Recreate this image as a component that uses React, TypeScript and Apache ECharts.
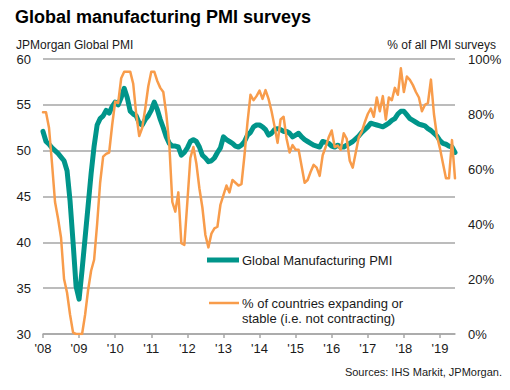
import React, { useEffect, useRef } from "react";
import * as echarts from "echarts";

// Monthly categories Jan 2008 .. Jun 2019
const startYear = 2008;
const monthCount = 138;
const months: string[] = [];
for (let i = 0; i < monthCount; i++) {
  const y = startYear + Math.floor(i / 12);
  const m = (i % 12) + 1;
  months.push(`${y}-${m < 10 ? "0" + m : m}`);
}

const yearLabels = ["'08", "'09", "'10", "'11", "'12", "'13", "'14", "'15", "'16", "'17", "'18", "'19"];

// JPMorgan Global Manufacturing PMI (left axis)
const pmi = [
  52.1, 51.0, 50.7, 50.3, 50.0, 49.7, 49.3, 48.9, 47.8, 44.5, 40.0, 35.2,
  33.8, 37.0, 40.5, 44.0, 47.5, 50.5, 52.8, 53.5, 53.8, 54.4, 54.1, 54.8,
  55.3, 55.0, 55.8, 56.8, 55.8, 54.3, 54.0, 53.8, 53.0, 52.8, 53.4, 53.8,
  54.4, 55.3, 54.5, 53.4, 52.5, 51.5, 50.8, 50.5, 50.5, 50.4, 49.5, 49.8,
  50.3, 51.0, 51.2, 51.0, 50.4, 49.5, 49.2, 48.8, 48.9, 49.2, 49.8, 50.3,
  51.5, 51.2, 51.0, 50.8, 50.5, 50.4, 50.6, 51.0, 51.7, 52.0, 52.6, 52.8,
  52.8, 52.6, 52.3, 51.7, 51.9, 52.3, 52.4, 52.3, 52.1, 52.1, 51.9, 51.5,
  51.7, 51.9, 51.5, 51.2, 51.0, 50.8, 50.6, 50.5, 50.4, 51.0, 50.9, 50.8,
  50.5, 50.4, 50.6, 50.4, 50.4, 50.6, 50.8, 51.0, 51.3, 51.6, 52.0, 52.3,
  52.6, 53.0, 52.9, 52.8, 52.7, 52.6, 52.8, 53.0, 53.3, 53.5, 54.0, 54.3,
  54.3, 53.9, 53.5, 53.3, 53.1, 52.9, 52.8, 52.7, 52.4, 52.2, 51.9, 51.6,
  51.1, 50.8, 50.7, 50.5, 50.4, 49.8,
];

// % of countries expanding or stable (right axis)
const pctExpanding = [
  80.6, 80.6, 75, 62, 48, 42, 35, 20, 15, 7, 0.5, 0,
  0, 0, 7, 16, 23, 27, 40, 55, 64.5, 65.5, 66, 76,
  84.5, 84, 93, 95.4, 95.4, 95.4, 91, 80, 72, 75, 82, 90,
  95.4, 95.4, 92, 89.5, 88, 80, 69, 48, 44.5, 51.5, 33, 32.4,
  48, 64, 68, 62, 53, 46, 36, 31.5, 36.5, 38.4, 39, 47,
  50.5, 54, 51.5, 56, 55, 54, 54.5, 65, 77, 87, 85, 86.5,
  88.5, 85.5, 88.7, 85.5, 81, 75.5, 69.5, 78, 79, 71, 66, 68.7,
  67, 67, 61, 55, 56, 59, 61.5, 60.5, 57.5, 65, 68, 71.5,
  74, 68, 68.5, 67, 73, 71, 63, 60.5, 66, 71.5, 73.6, 77,
  80, 82, 79, 86, 81, 86.5, 78, 86, 85, 89.5, 87, 96.6,
  88, 93.6, 92.4, 90.5, 88, 86, 81, 83.3, 84, 92.5, 80, 72,
  67.5, 62, 56.6, 56.6, 70.5, 56.6,
];

const TEAL = "#00958A";
const ORANGE = "#F89C4B";
const GRID = "#A6A6A6";
const FONT = '"Liberation Sans", Arial, sans-serif';

export default function App() {
  const ref = useRef<HTMLDivElement>(null);

  useEffect(() => {
    const chart = echarts.init(ref.current!, null, { renderer: "svg" });
    chart.setOption({
      animation: false,
      backgroundColor: "#ffffff",
      textStyle: { fontFamily: FONT },
      grid: {
        left: 43,
        right: 55,
        top: 59,
        bottom: 56,
        containLabel: false,
        outerBoundsMode: "none",
      },
      xAxis: {
        type: "category",
        data: months,
        boundaryGap: false,
        axisLine: { show: true, lineStyle: { color: GRID, width: 1.5 } },
        axisTick: {
          show: true,
          interval: (i: number) => i % 12 === 0,
          length: 4,
          lineStyle: { color: GRID, width: 1.5 },
        },
        axisLabel: {
          interval: (i: number) => i % 12 === 0,
          formatter: (_v: string, i: number) => yearLabels[Math.floor(i / 12)] ?? "",
          color: "#1a1a1a",
          fontSize: 13,
          fontFamily: FONT,
          margin: 8,
        },
        splitLine: { show: false },
      },
      yAxis: [
        {
          type: "value",
          min: 30,
          max: 60,
          interval: 5,
          axisLine: { show: false },
          axisTick: { show: false },
          axisLabel: { color: "#1a1a1a", fontSize: 13, fontFamily: FONT, margin: 12 },
          splitLine: { show: true, lineStyle: { color: GRID, width: 1.5 } },
        },
        {
          type: "value",
          min: 0,
          max: 100,
          interval: 20,
          position: "right",
          axisLine: { show: false },
          axisTick: { show: false },
          axisLabel: {
            formatter: "{value}%",
            color: "#1a1a1a",
            fontSize: 13,
            fontFamily: FONT,
            margin: 13,
          },
          splitLine: { show: false },
        },
      ],
      series: [
        {
          name: "Global Manufacturing PMI",
          type: "line",
          yAxisIndex: 0,
          data: pmi,
          showSymbol: false,
          symbol: "none",
          lineStyle: { color: TEAL, width: 5, cap: "round", join: "round" },
          z: 2,
        },
        {
          name: "% of countries expanding or stable (i.e. not contracting)",
          type: "line",
          yAxisIndex: 1,
          data: pctExpanding,
          showSymbol: false,
          symbol: "none",
          lineStyle: { color: ORANGE, width: 2.5, cap: "round", join: "round" },
          z: 3,
        },
      ],
      graphic: [
        {
          type: "text",
          x: 15,
          y: 17,
          style: {
            text: "Global manufacturing PMI surveys",
            fontSize: 18,
            fontWeight: "bold",
            fontFamily: FONT,
            fill: "#000",
            align: "left",
            verticalAlign: "middle",
          },
        },
        {
          type: "text",
          x: 16,
          y: 45,
          style: {
            text: "JPMorgan Global PMI",
            fontSize: 12,
            fontFamily: FONT,
            fill: "#1a1a1a",
            align: "left",
            verticalAlign: "middle",
          },
        },
        {
          type: "text",
          x: 496,
          y: 45,
          style: {
            text: "% of all PMI surveys",
            fontSize: 12,
            fontFamily: FONT,
            fill: "#1a1a1a",
            align: "right",
            verticalAlign: "middle",
          },
        },
        {
          type: "line",
          shape: { x1: 207, y1: 260, x2: 239, y2: 260 },
          style: { stroke: TEAL, lineWidth: 5 },
        },
        {
          type: "text",
          x: 242,
          y: 260,
          style: {
            text: "Global Manufacturing PMI",
            fontSize: 13,
            fontFamily: FONT,
            fill: "#1a1a1a",
            align: "left",
            verticalAlign: "middle",
          },
        },
        {
          type: "line",
          shape: { x1: 209, y1: 303, x2: 239, y2: 303 },
          style: { stroke: ORANGE, lineWidth: 2.5 },
        },
        {
          type: "text",
          x: 242,
          y: 303,
          style: {
            text: "% of countries expanding or",
            fontSize: 13,
            fontFamily: FONT,
            fill: "#1a1a1a",
            align: "left",
            verticalAlign: "middle",
          },
        },
        {
          type: "text",
          x: 242,
          y: 318,
          style: {
            text: "stable (i.e. not contracting)",
            fontSize: 13,
            fontFamily: FONT,
            fill: "#1a1a1a",
            align: "left",
            verticalAlign: "middle",
          },
        },
        {
          type: "text",
          x: 502,
          y: 372,
          style: {
            text: "Sources: IHS Markit, JPMorgan.",
            fontSize: 11,
            fontFamily: FONT,
            fill: "#1a1a1a",
            align: "right",
            verticalAlign: "middle",
          },
        },
      ],
    });
    return () => chart.dispose();
  }, []);

  return (
    <div
      ref={ref}
      style={{ position: "absolute", left: 0, top: 0, width: 510, height: 390, background: "#fff" }}
    />
  );
}
